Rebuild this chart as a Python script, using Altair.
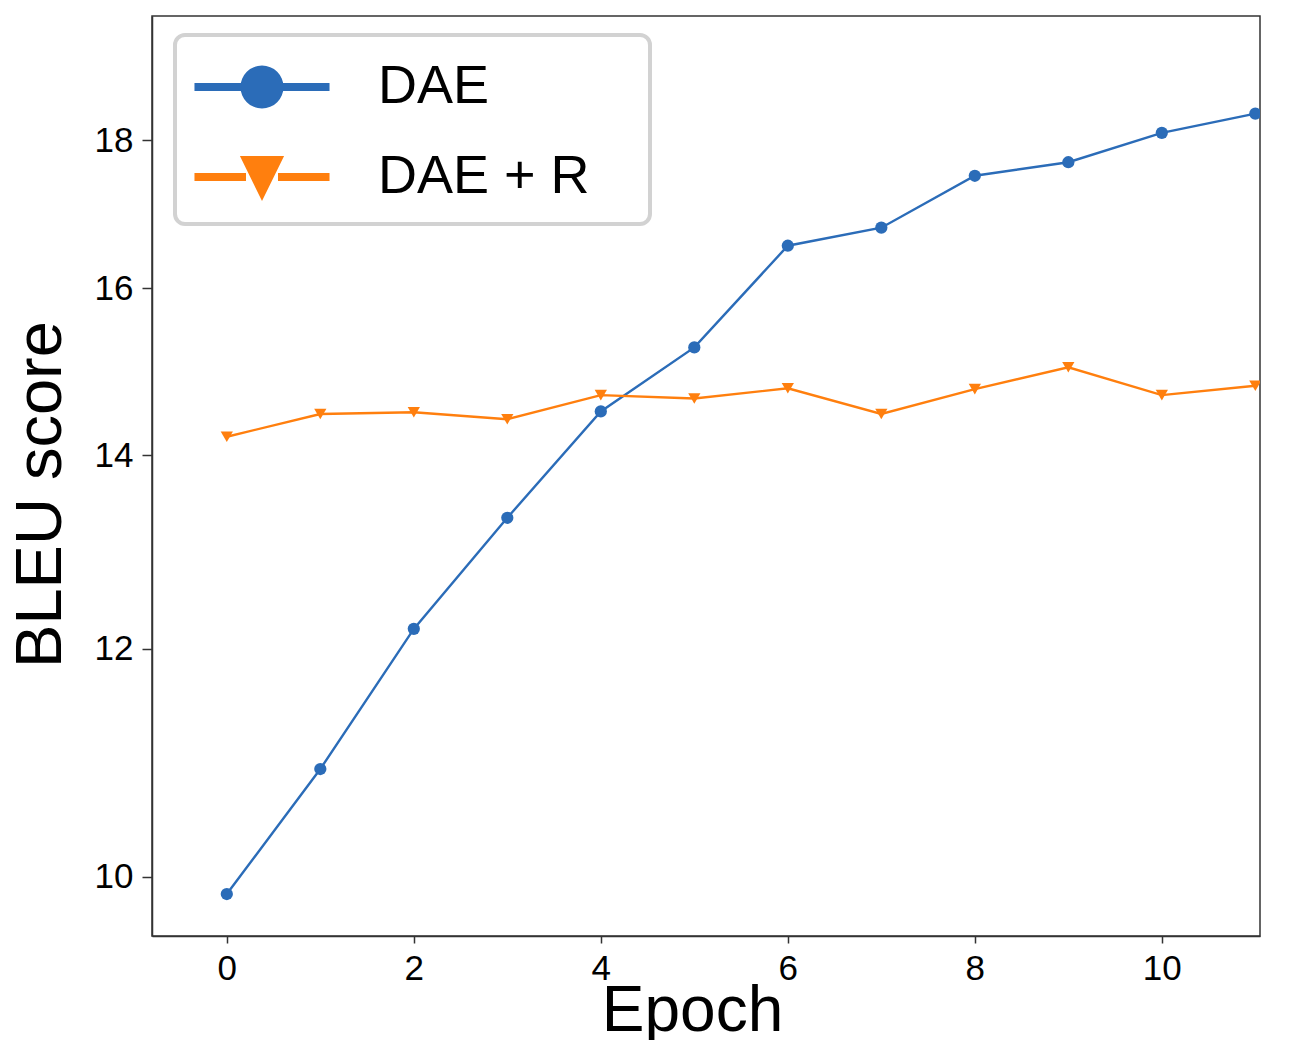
import math
import altair as alt
import pandas as pd

epochs = list(range(12))
dae = [9.865, 10.90, 12.19, 13.32, 14.50, 15.26, 16.55, 16.79, 17.50, 17.69, 18.11, 18.39]
dae_r = [14.21, 14.47, 14.49, 14.41, 14.69, 14.65, 14.77, 14.47, 14.76, 15.02, 14.69, 14.80]
series_names = ["DAE", "DAE + R"]
colors = ["#2b6cb8", "#ff7f0e"]
marker_shapes = ["circle", "triangle-down"]
x_ticks = [0, 2, 4, 6, 8, 10]
y_ticks = [10, 12, 14, 16, 18]

rows = []
for e, v in zip(epochs, dae):
    rows.append({"epoch": e, "bleu": v, "series": "DAE"})
for e, v in zip(epochs, dae_r):
    rows.append({"epoch": e, "bleu": v, "series": "DAE + R"})
df = pd.DataFrame(rows)

FONT = "Liberation Sans"

xenc = alt.X("epoch:Q",
             scale=alt.Scale(domain=[-0.8, 11.05], nice=False, zero=False),
             axis=alt.Axis(values=x_ticks, title="Epoch", grid=False, format="d",
                           labelFontSize=35, labelFont=FONT, labelColor="black",
                           tickSize=7, tickColor="#333", domainColor="#333",
                           domainWidth=1.5, tickWidth=1.5, labelPadding=8,
                           titleFontSize=64, titleFont=FONT, titleFontWeight="normal",
                           titleColor="black", titleX=540, titleY=94,
                           titleBaseline="alphabetic", titleAlign="center"))
yenc = alt.Y("bleu:Q",
             scale=alt.Scale(type="log", domain=[9.54, 19.88], nice=False, zero=False),
             axis=alt.Axis(values=y_ticks, title="BLEU score", grid=False,
                           format="d",
                           labelFontSize=35, labelFont=FONT, labelColor="black",
                           tickSize=10, tickColor="#333", domainColor="#333",
                           domainWidth=1.5, tickWidth=1.5, labelPadding=9,
                           titleFontSize=65, titleFont=FONT, titleFontWeight="normal",
                           titleColor="black", titleX=-92, titleY=478,
                           titleBaseline="alphabetic", titleAlign="center", titleAngle=270))

base = alt.Chart(df)

layers = []
for name, col, shp in zip(series_names, colors, marker_shapes):
    sub = base.transform_filter(alt.datum.series == name)
    layers.append(sub.mark_line(strokeWidth=2.4, color=col, clip=True).encode(x=xenc, y=yenc))
    layers.append(sub.mark_point(shape=shp, filled=True, size=150, opacity=1,
                                 color=col, clip=True).encode(x="epoch:Q", y="bleu:Q"))

# legend glyphs: line with marker (unit coordinates, 1 unit = half symbol size)
L, T = 2.11, 0.125
R = 0.672
poly = " ".join(
    ("M" if i == 0 else "L") + f"{R*math.cos(2*math.pi*i/32):.4f},{R*math.sin(2*math.pi*i/32):.4f}"
    for i in range(32)) + " Z"
circle_path = (f"M-{L},-{T} L-0.66,-{T} L-0.66,{T} L-{L},{T} Z "
               f"M0.66,-{T} L{L},-{T} L{L},{T} L0.66,{T} Z " + poly)
tri_path = (f"M-{L},-{T} L-0.5,-{T} L-0.5,{T} L-{L},{T} Z "
            f"M0.5,-{T} L{L},-{T} L{L},{T} L0.5,{T} Z "
            "M-0.69,-0.656 L0.69,-0.656 L0,0.75 Z")

ghost = base.mark_point(filled=True, size=0, opacity=1, clip=True).encode(
    x="epoch:Q", y="bleu:Q",
    fill=alt.Fill("series:N", scale=alt.Scale(domain=series_names, range=colors), legend=alt.Legend(
        title=None, orient="none", legendX=23, legendY=19,
        labelFontSize=54, labelFont=FONT, labelColor="black", labelLimit=600,
        symbolSize=4096, symbolStrokeWidth=0, symbolOpacity=1,
        symbolOffset=35, labelOffset=84, rowPadding=31, padding=20,
        labelExpr="datum.label + '\u2800'",
        strokeColor="#d2d2d2", cornerRadius=10, fillColor="white")),
    shape=alt.Shape("series:N", scale=alt.Scale(domain=series_names, range=[circle_path, tri_path])),
)
layers.append(ghost)

chart = alt.layer(*layers).properties(
    width=1108, height=920,
    autosize=alt.AutoSizeParams(type="none"),
    padding={"left": 144, "top": 8, "right": 30, "bottom": 120},
    background="white",
).configure_view(stroke="#333", strokeWidth=1.5).configure_legend(strokeWidth=4)

chart.save("out.html", embed_options={"renderer": "svg", "actions": False})
